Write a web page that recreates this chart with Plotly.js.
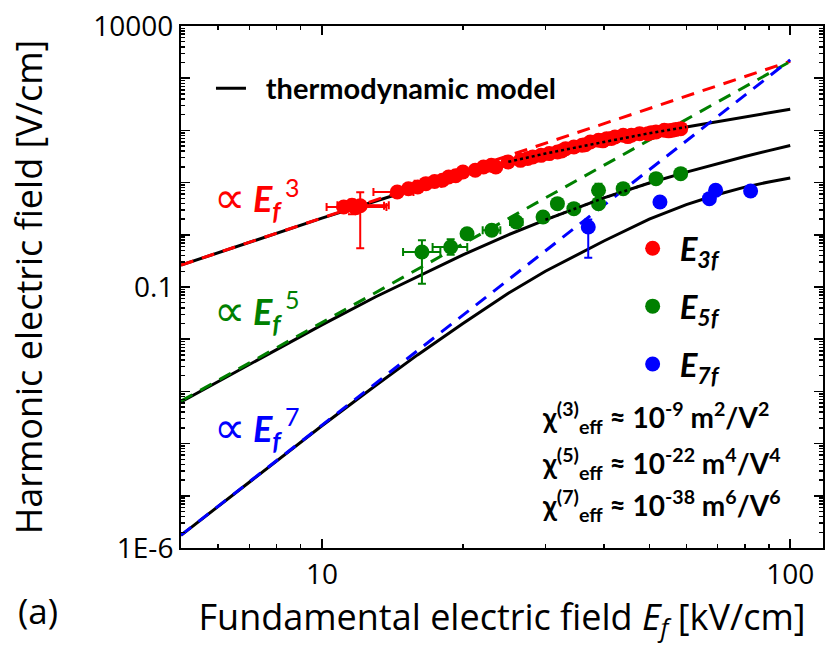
<!DOCTYPE html>
<html><head><meta charset="utf-8">
<script src="https://cdn.plot.ly/plotly-3.0.1.min.js"></script>
<style>html,body{margin:0;padding:0;background:#fff}#chart{width:831px;height:645px}</style>
</head><body><div id="chart"></div>
<script>
// ---- thermodynamic model curves ----
const xModel = [5,7,10,13,16,20,25,30,40,50,60,70,80,90,100];
const y3Model = [0.262,0.72,2.08,4.4,8.0,15,25,36,60,88,116,147,180,216,255];
const y5Model = [6.31e-4,3.33e-3,0.0188,0.0644,0.158,0.413,1.0,1.94,5.09,9.82,15.9,23.2,31.6,41.0,51.2];
const y7Model = [1.75e-6,1.845e-5,2.2e-4,1.28e-3,5.0e-3,0.02,0.0759,0.2,0.76,2.0,3.8,5.9,8.2,10.3,12.3];
// ---- power-law guides (end points) ----
const xPower = [5,100];
const y3Power = [0.2625,2100];
const y5Power = [6.53e-4,2090];
const y7Power = [1.76e-6,2250];
// ---- measured E3f ----
const x3f = [11.13,11.59,12.07,11.8,14.48,15.3,16.01,16.67,17.4,18.08,18.64,19.3,20.0,21.25,22.13,23.0,23.51,24.97,26.54,27.5,28.19,29.36,30.57,31.83,32.5,33.14,34.51,35.93,36.5,37.41,38.96,39.8,40.56,41.5,42.24,43.98,45.0,45.79,47.68,49.65,50.5,51.69,53.83,55.0,56.04,57.0,58.36];
const y3f = [3.41,3.67,3.6,3.3,6.61,7.6,8.25,9.55,10.5,11.07,12.82,13.5,15.97,17.2,19.93,21.5,19.93,24.8,26.7,29.0,30.97,33.3,35.9,38.6,40.5,44.7,48.1,51.8,53,60.0,64.6,63,69.5,70,74.8,80.5,76,80.5,86.7,86.7,90,93.3,100.4,98,100.4,104,108.1];
const ex3fMinus = [0.9,0.8,1.0,0,1.6,0,0,0.9,0,0.5,0,0,0,0,0,0,0,0,0,0,0,0,0,0,0,0,0,0,0,0,0,0,0,0,0,0,0,0,0,0,0,0,0,0,0,0,0];
const ex3fPlus  = [2.6,2.3,1.5,0,1.2,0,0,1.3,0,0.5,0,0,0,0,0,0,0,0,0,0,0,0,0,0,0,0,0,0,0,0,0,0,0,0,0,0,0,0,0,0,0,0,0,0,0,0,0];
const ey3fMinus = [0,1.2,3.05,0,0,0,0,0,0,0,0,0,0,0,0,0,0,0,0,0,0,0,0,0,0,0,0,0,0,0,0,0,0,0,0,0,0,0,0,0,0,0,0,0,0,0,0];
const ey3fPlus  = [0,1.0,2.9,0,0,0,0,0,0,0,0,0,0,0,0,0,0,0,0,0,0,0,0,0,0,0,0,0,0,0,0,0,0,0,0,0,0,0,0,0,0,0,0,0,0,0,0];
// ---- measured E5f ----
const x5f = [16.35,18.83,20.41,23.04,26.01,29.66,31.83,34.51,38.96,38.96,43.98,51.69,58.36];
const y5f = [0.469,0.584,1.05,1.22,1.76,2.19,3.95,3.17,7.12,3.95,7.66,11.9,14.85];
const ex5fMinus = [1.45,1.6,0,1.0,0.8,0,0,0,0,0,0,0,0];
const ex5fPlus  = [1.55,1.6,0,1.0,0.8,0,0,0,0,0,0,0,0];
const ey5fMinus = [0.353,0.17,0,0,0,0,0,0,2.5,0,0,0,0];
const ey5fPlus  = [0.315,0.24,0,0,0,0,0,0,2.4,0,0,0,0];
// ---- measured E7f ----
const x7f = [37.04,52.7,67.2,69.3,82.3];
const y7f = [1.41,4.26,4.93,7.12,6.91];
const ey7fMinus = [1.045,0,0,0,0];
const ey7fPlus  = [0.55,0,0,0,0];
// ---- axis labels ----
const yTickVals = [1e-6,1e-5,1e-4,1e-3,1e-2,1e-1,1,10,100,1000,10000];
const yTickText = ['1E-6','','','','','0.1','','','','','10000'];
const xTickVals = [10,100];
const xTickText = ['10','100'];

const RED='#ff0000', GREEN='#008000', BLUE='#0000ff';
function minorVals(lo,hi){const v=[];for(let e=lo;e<hi;e++){for(let m=2;m<=9;m++)v.push(m*Math.pow(10,e));}return v;}

const traces = [];
[[y3Model,true],[y5Model,false],[y7Model,false]].forEach(([yy,show])=>{
  traces.push({x:xModel,y:yy,mode:'lines',line:{color:'#000',width:3},
    name:'\u00a0\u00a0<b>thermodynamic model</b>',showlegend:show,legend:'legend',hoverinfo:'skip'});
});
[[y3Power,RED],[y5Power,GREEN],[y7Power,BLUE]].forEach(([yy,c])=>{
  traces.push({x:xPower,y:yy,mode:'lines',line:{color:c,width:3,dash:'13px,9px'},showlegend:false,hoverinfo:'skip'});
});
function dataTrace(x,y,c,name,grp,exm,exp,eym,eyp){
  const t={x:x,y:y,mode:'markers',marker:{color:c,size:15},name:name,legend:'legend2',legendgroup:grp,showlegend:true};
  if(eym) t.error_y={type:'data',symmetric:false,array:eyp,arrayminus:eym,color:c,thickness:2,width:4};
  if(exm) t.error_x={type:'data',symmetric:false,array:exp,arrayminus:exm,color:c,thickness:2,width:4};
  return t;
}
traces.push(dataTrace(x3f,y3f,RED,'<b><i>E</i></b><sub><b><i>3f</i></b></sub>','a',ex3fMinus,ex3fPlus,ey3fMinus,ey3fPlus));
traces.push(dataTrace(x5f,y5f,GREEN,'<b><i>E</i></b><sub><b><i>5f</i></b></sub>','b',ex5fMinus,ex5fPlus,ey5fMinus,ey5fPlus));
traces.push(dataTrace(x7f,y7f,BLUE,'<b><i>E</i></b><sub><b><i>7f</i></b></sub>','c',null,null,ey7fMinus,ey7fPlus));
// model curves showing through the dense data (dotted, on top, only within the data span)
function segment(xs,ys,lo,hi){const ix=xs.map((v,i)=>i).filter(i=>xs[i]>=lo&&xs[i]<=hi);return {x:ix.map(i=>xs[i]),y:ix.map(i=>ys[i])};}
[[segment(xModel,y3Model,25,60)],[segment(xModel,y5Model,30,50)]].forEach(([s])=>{
  traces.push({x:s.x,y:s.y,mode:'lines',line:{color:'#000',width:2.5,dash:'dot'},showlegend:false,hoverinfo:'skip'});
});

const AF = 'Lato, "Open Sans", sans-serif';
function px2x(p){return (p-181)/642.5;}
function px2y(p){return (547.7-p)/522;}
const ann = [];
[[RED,197,'3',187],[GREEN,310,'5',299],[BLUE,427,'7',416]].forEach(([c,yy,n,ys])=>{
  ann.push({xref:'paper',yref:'paper',x:px2x(230),y:px2y(yy),xanchor:'center',yanchor:'middle',showarrow:false,
    text:'∝',font:{family:'"DejaVu Sans", sans-serif',size:44,color:c}});
  ann.push({xref:'paper',yref:'paper',x:px2x(251),y:px2y(yy+3),xanchor:'left',yanchor:'middle',showarrow:false,
    text:'<b><i>E</i></b><sub><b><i>f</i></b></sub>',font:{family:AF,size:36,color:c}});
  ann.push({xref:'paper',yref:'paper',x:px2x(283),y:px2y(ys),xanchor:'left',yanchor:'middle',showarrow:false,
    text:n,font:{family:AF,size:25,color:c}});
});
[['3','-9','2',417],['5','-22','4',463],['7','-38','6',505]].forEach(([n,e,p,yy])=>{
  ann.push({xref:'paper',yref:'paper',x:px2x(540),y:px2y(yy),xanchor:'left',yanchor:'middle',showarrow:false,
    text:'<b>χ<sup>('+n+')</sup><sub>eff</sub> ≈ 10<sup>'+e+'</sup> m<sup>'+p+'</sup>/V<sup>'+p+'</sup></b>',
    font:{family:AF,size:28,color:'#000'}});
});
ann.push({xref:'paper',yref:'paper',x:px2x(16),y:px2y(610),xanchor:'left',yanchor:'middle',showarrow:false,
  text:'(a)',font:{family:'"Open Sans", sans-serif',size:35,color:'#000'}});

const axisCommon = {type:'log',showgrid:false,zeroline:false,showline:true,linecolor:'#000',linewidth:2,
  mirror:'ticks',ticks:'inside',tickcolor:'#000',tickwidth:1.5,tickmode:'array'};
const layout = {
  width:831,height:645,paper_bgcolor:'#fff',plot_bgcolor:'#fff',
  margin:{l:181,r:8,t:26,b:97},
  font:{family:'"Open Sans", sans-serif',color:'#000'},
  xaxis:Object.assign({},axisCommon,{range:[Math.log10(5),2.07],tickvals:xTickVals,ticktext:xTickText,ticklen:9,
    minor:{tickmode:'array',tickvals:minorVals(0,2).filter(v=>v>=5&&v<=117),ticks:'inside',ticklen:4,tickwidth:1.5,tickcolor:'#000'},
    tickfont:{size:28},
    title:{text:'Fundamental electric field <i>E<sub>f</sub></i> [kV/cm]',font:{size:36},standoff:1}}),
  yaxis:Object.assign({},axisCommon,{range:[-6,4],tickvals:yTickVals,ticktext:yTickText,ticklen:9,
    minor:{tickmode:'array',tickvals:minorVals(-6,4),ticks:'inside',ticklen:4,tickwidth:1.5,tickcolor:'#000'},
    tickfont:{size:28},
    title:{text:'Harmonic electric field [V/cm]',font:{size:36},standoff:40}}),
  legend:{x:px2x(211),y:px2y(88),xanchor:'left',yanchor:'middle',bgcolor:'rgba(0,0,0,0)',
    font:{family:AF,size:29,color:'#000'},itemwidth:30},
  legend2:{x:px2x(626),y:px2y(306),xanchor:'left',yanchor:'middle',bgcolor:'rgba(0,0,0,0)',
    font:{family:AF,size:33},itemwidth:44,tracegroupgap:12},
  annotations:ann,
  showlegend:true
};
Plotly.newPlot('chart',traces,layout,{displayModeBar:false,staticPlot:true});
</script></body></html>
